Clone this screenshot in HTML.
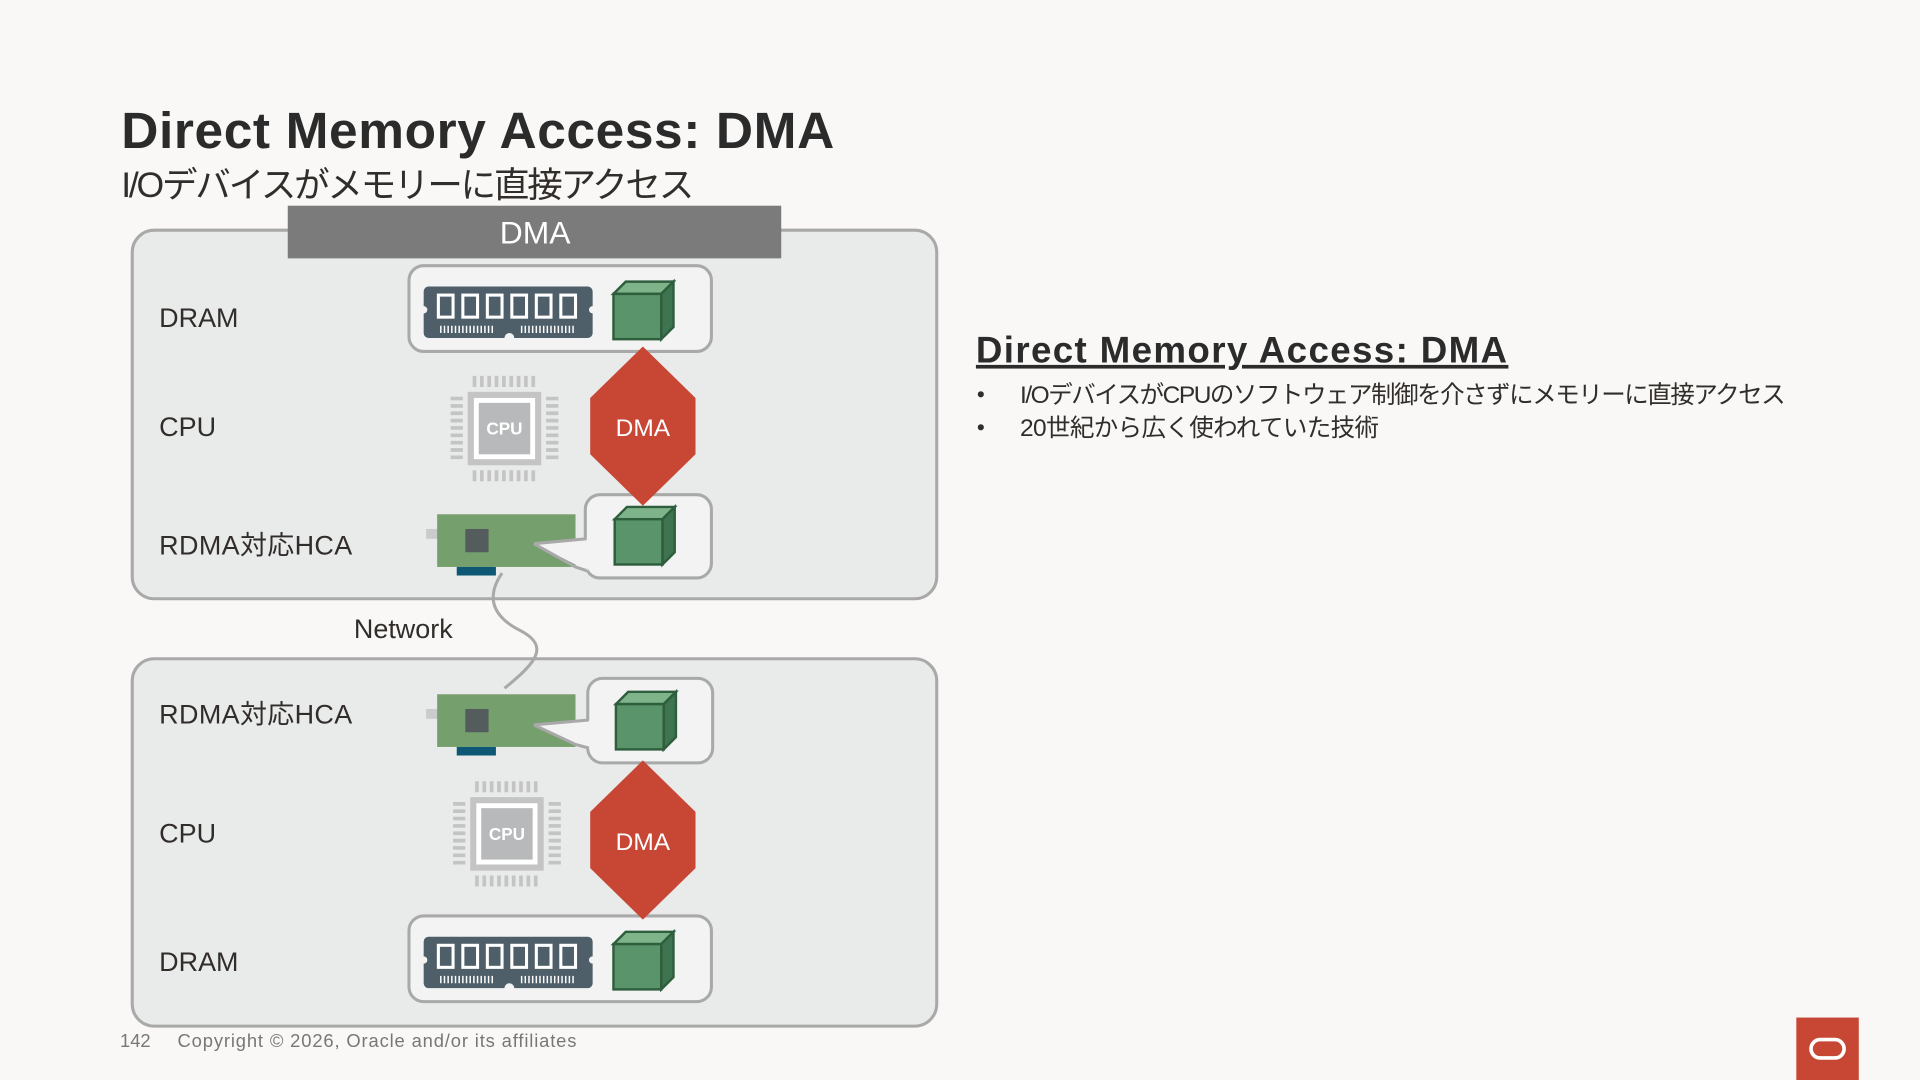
<!DOCTYPE html>
<html><head><meta charset="utf-8"><style>
html,body{margin:0;padding:0;background:#f9f8f6;overflow:hidden}
#w{position:absolute;left:0;top:0;width:1568px;height:882px;transform:scale(1.22449);transform-origin:0 0;font-family:"Liberation Sans","Noto Sans CJK JP",sans-serif;color:#312d2a}
.a{position:absolute;white-space:nowrap}
</style></head><body><div id="w">
<div class="a" style="left:99px;top:83px;font-size:42px;font-weight:bold;color:#2b2b2b;letter-spacing:0.5px">Direct Memory Access: DMA</div>
<div class="a" style="left:99px;top:128px;font-size:29px;letter-spacing:-1.8px">I/Oデバイスがメモリーに直接アクセス</div>
<svg class="a" style="left:0;top:0" width="1568" height="882" viewBox="0 0 1568 882">
<defs>
<g id="cube"><polygon points="0,10 10,0 49,0 39,10" fill="#7fb48b" stroke="#2f5e3d" stroke-width="2"/><polygon points="39,10 49,0 49,37 39,47" fill="#3f7450" stroke="#2f5e3d" stroke-width="2"/><rect x="0" y="10" width="39" height="37" fill="#5a946a" stroke="#2f5e3d" stroke-width="2"/></g>
<g id="ram"><path d="M0,4 a4,4 0 0 1 4,-4 h130 a4,4 0 0 1 4,4 v12 a3,3 0 0 0 0,6 v16 a4,4 0 0 1 -4,4 h-60 a4,4 0 0 0 -8,0 h-62 a4,4 0 0 1 -4,-4 v-16 a3,3 0 0 0 0,-6 z" fill="#4f5f69"/>
<g fill="none" stroke="#fff" stroke-width="2.5"><rect x="12" y="7" width="12" height="18"/><rect x="32" y="7" width="12" height="18"/><rect x="52" y="7" width="12" height="18"/><rect x="72" y="7" width="12" height="18"/><rect x="92" y="7" width="12" height="18"/><rect x="112" y="7" width="12" height="18"/></g>
<g stroke="#fff" stroke-width="1.2"><path d="M14,32v6M17,32v6M20,32v6M23,32v6M26,32v6M29,32v6M32,32v6M35,32v6M38,32v6M41,32v6M44,32v6M47,32v6M50,32v6M53,32v6M56,32v6M80,32v6M83,32v6M86,32v6M89,32v6M92,32v6M95,32v6M98,32v6M101,32v6M104,32v6M107,32v6M110,32v6M113,32v6M116,32v6M119,32v6M122,32v6"/></g></g>
<g id="cpu"><g fill="#c4c4c4"><rect x="14" y="13" width="60" height="60" fill="#c4c4c4"/><rect x="19" y="18" width="50" height="50" fill="#fff"/><rect x="23" y="22" width="42" height="42" fill="#b7b9ba"/>
<path d="M18,0h3v9h-3zM24,0h3v9h-3zM30,0h3v9h-3zM36,0h3v9h-3zM42,0h3v9h-3zM48,0h3v9h-3zM54,0h3v9h-3zM60,0h3v9h-3zM66,0h3v9h-3zM18,77h3v9h-3zM24,77h3v9h-3zM30,77h3v9h-3zM36,77h3v9h-3zM42,77h3v9h-3zM48,77h3v9h-3zM54,77h3v9h-3zM60,77h3v9h-3zM66,77h3v9h-3z"/>
<path d="M0,17h10v3h-10zM0,23h10v3h-10zM0,29h10v3h-10zM0,35h10v3h-10zM0,41h10v3h-10zM0,47h10v3h-10zM0,53h10v3h-10zM0,59h10v3h-10zM0,65h10v3h-10zM78,17h10v3h-10zM78,23h10v3h-10zM78,29h10v3h-10zM78,35h10v3h-10zM78,41h10v3h-10zM78,47h10v3h-10zM78,53h10v3h-10zM78,59h10v3h-10zM78,65h10v3h-10z"/></g>
<text x="44" y="48" font-size="14" font-weight="bold" fill="#fff" text-anchor="middle" font-family="Liberation Sans">CPU</text></g>
<g id="card"><rect x="-9" y="12" width="20" height="8" fill="#c9cccb"/><rect x="0" y="0" width="113" height="43" fill="#759f6d"/><rect x="23" y="12" width="19" height="19" fill="#555c5e"/><rect x="16" y="43" width="32" height="7" fill="#0e5875"/></g>
</defs>
<rect x="108" y="188" width="657" height="301" rx="18" fill="#e9eaea" stroke="#a9a9a9" stroke-width="2.5"/>
<rect x="108" y="538" width="657" height="300" rx="18" fill="#e9eaea" stroke="#a9a9a9" stroke-width="2.5"/>
<rect x="235" y="168" width="403" height="43" fill="#7b7b7b"/>
<text x="437" y="199" font-size="26" fill="#fff" text-anchor="middle" font-family="Liberation Sans">DMA</text>
<path d="M410,468 C395,490 405,505 425,515 C448,527 440,540 412,562" fill="none" stroke="#a9a9a9" stroke-width="2.5"/>
<rect x="334" y="217" width="247" height="70" rx="12" fill="#f3f3f3" stroke="#a9a9a9" stroke-width="2.5"/>
<use href="#ram" x="346" y="234"/>
<use href="#cube" x="501" y="230"/>
<use href="#cpu" x="368" y="307"/>
<rect x="478" y="404" width="103" height="68" rx="12" fill="#f3f3f3" stroke="#a9a9a9" stroke-width="2.5"/>
<use href="#card" x="357" y="420"/>
<polygon points="436,444 480,440 480,466" fill="#f3f3f3"/>
<path d="M436,444 L479,440 M436,444 L470,463 L479,466" stroke="#a9a9a9" stroke-width="2.5" fill="none"/>
<use href="#cube" x="502" y="414"/>
<polygon points="525,283 568,325 568,371 525,413 482,371 482,325" fill="#c74634"/>
<text x="525" y="356" font-size="20" fill="#fff" text-anchor="middle" font-family="Liberation Sans">DMA</text>
<rect x="480" y="554" width="102" height="69" rx="12" fill="#f3f3f3" stroke="#a9a9a9" stroke-width="2.5"/>
<use href="#card" x="357" y="567"/>
<polygon points="436,592 482,588 482,612" fill="#f3f3f3"/>
<path d="M436,592 L481,588 M436,592 L470,608 L481,611" stroke="#a9a9a9" stroke-width="2.5" fill="none"/>
<use href="#cube" x="503" y="565"/>
<use href="#cpu" x="370" y="638"/>
<rect x="334" y="748" width="247" height="70" rx="12" fill="#f3f3f3" stroke="#a9a9a9" stroke-width="2.5"/>
<use href="#ram" x="346" y="765"/>
<use href="#cube" x="501" y="761"/>
<polygon points="525,621 568,663 568,709 525,751 482,709 482,663" fill="#c74634"/>
<text x="525" y="694" font-size="20" fill="#fff" text-anchor="middle" font-family="Liberation Sans">DMA</text>
<rect x="1467" y="831" width="51" height="51" fill="#c74634"/>
<rect x="1479" y="849" width="27" height="15" rx="7.5" fill="none" stroke="#fff" stroke-width="3"/>
<circle cx="801" cy="322" r="2.5" fill="#312d2a"/>
<circle cx="801" cy="349" r="2.5" fill="#312d2a"/>
</svg>
<div class="a" style="left:130px;top:247px;font-size:22px">DRAM</div>
<div class="a" style="left:130px;top:336px;font-size:22px">CPU</div>
<div class="a" style="left:130px;top:428px;font-size:22px;letter-spacing:0.3px">RDMA対応HCA</div>
<div class="a" style="left:289px;top:501px;font-size:22px">Network</div>
<div class="a" style="left:130px;top:566px;font-size:22px;letter-spacing:0.3px">RDMA対応HCA</div>
<div class="a" style="left:130px;top:668px;font-size:22px">CPU</div>
<div class="a" style="left:130px;top:773px;font-size:22px">DRAM</div>
<div class="a" style="left:797px;top:270px;font-size:30px;font-weight:bold;text-decoration:underline;color:#2b2b2b;letter-spacing:1.1px">Direct Memory Access: DMA</div>
<div class="a" style="left:833px;top:306px;font-size:20px;letter-spacing:-1.2px">I/OデバイスがCPUのソフトウェア制御を介さずにメモリーに直接アクセス</div>
<div class="a" style="left:833px;top:333px;font-size:20px;letter-spacing:-0.5px">20世紀から広く使われていた技術</div>
<div class="a" style="left:98px;top:842px;font-size:15px;color:#777">142</div>
<div class="a" style="left:145px;top:842px;font-size:15px;color:#777;letter-spacing:0.7px">Copyright © 2026, Oracle and/or its affiliates</div>
</div></body></html>
